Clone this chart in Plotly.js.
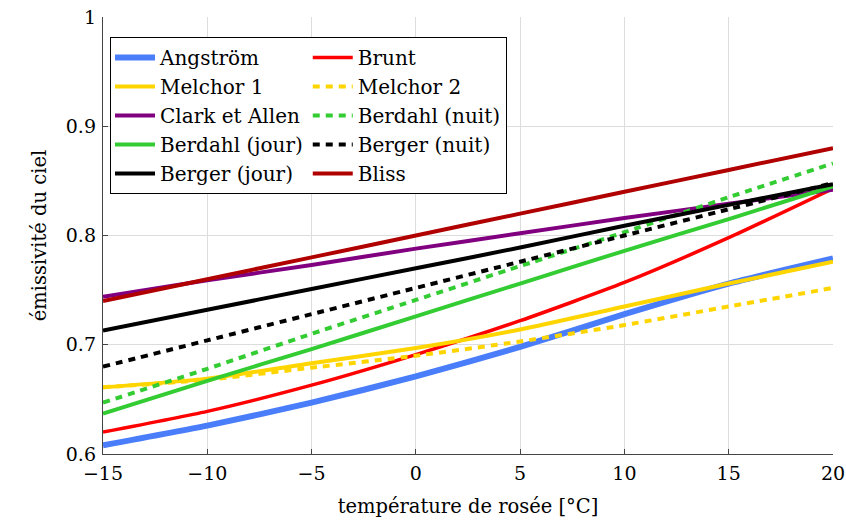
<!DOCTYPE html>
<html>
<head>
<meta charset="utf-8">
<script src="https://cdn.plot.ly/plotly-3.0.1.min.js"></script>
<style>html,body{margin:0;padding:0;background:#fff;}#chart{width:846px;height:520px;}</style>
</head>
<body>
<div id="chart"></div>
<script>
// Dew point temperature [°C]
const dewPoint = [-15, -10, -5, 0, 5, 10, 15, 20];

// Sky emissivity per model
const angstrom     = [0.608, 0.626, 0.647, 0.671, 0.698, 0.728, 0.756, 0.779];
const brunt        = [0.620, 0.639, 0.663, 0.691, 0.722, 0.757, 0.798, 0.843];
const melchor1     = [0.661, 0.669, 0.683, 0.697, 0.714, 0.735, 0.756, 0.776];
const melchor2     = [0.661, 0.668, 0.679, 0.690, 0.703, 0.718, 0.735, 0.752];
const clarkAllen   = [0.744, 0.759, 0.773, 0.788, 0.802, 0.816, 0.829, 0.842];
const berdahlNuit  = [0.647, 0.678, 0.710, 0.741, 0.772, 0.803, 0.835, 0.866];
const berdahlJour  = [0.637, 0.667, 0.696, 0.726, 0.756, 0.786, 0.815, 0.845];
const bergerNuit   = [0.680, 0.704, 0.728, 0.752, 0.776, 0.800, 0.824, 0.848];
const bergerJour   = [0.713, 0.732, 0.751, 0.770, 0.789, 0.809, 0.828, 0.847];
const bliss        = [0.740, 0.760, 0.780, 0.800, 0.820, 0.840, 0.860, 0.880];

const xTickVals = [-15, -10, -5, 0, 5, 10, 15, 20];
const yTickVals = [0.6, 0.7, 0.8, 0.9, 1];
const yTickText = ["0.6", "0.7", "0.8", "0.9", "1"];

const DOT = "7px,6px";
function tr(name, y, color, width, dash, group) {
  return {
    x: dewPoint, y: y, name: name, type: "scatter", mode: "lines",
    legendgroup: group,
    line: {color: color, width: width, dash: dash || "solid", shape: "spline", smoothing: 0.6}
  };
}

const data = [
  tr("Angström", angstrom, "#4a7dfa", 6, null, "a"),
  tr("Brunt", brunt, "#ff0000", 3.5, null, "b"),
  tr("Melchor 1", melchor1, "#ffd500", 4, null, "a"),
  tr("Melchor 2", melchor2, "#ffd500", 4, DOT, "b"),
  tr("Clark et Allen", clarkAllen, "#800080", 4, null, "a"),
  tr("Berdahl (nuit)", berdahlNuit, "#33cc33", 4, DOT, "b"),
  tr("Berdahl (jour)", berdahlJour, "#33cc33", 4, null, "a"),
  tr("Berger (nuit)", bergerNuit, "#000000", 4, DOT, "b"),
  tr("Berger (jour)", bergerJour, "#000000", 4, null, "a"),
  tr("Bliss", bliss, "#b00000", 4, null, "b")
];

const FONT = "DejaVu Serif";

const layout = {
  width: 846, height: 520,
  margin: {l: 103, r: 13, t: 17, b: 66},
  paper_bgcolor: "#ffffff", plot_bgcolor: "#ffffff",
  font: {family: FONT, size: 19, color: "#000"},
  showlegend: true,
  legend: {
    orientation: "h", traceorder: "grouped",
    x: 0.0096, y: 0.954, xanchor: "left", yanchor: "top",
    bgcolor: "#ffffff", bordercolor: "#000000", borderwidth: 1,
    font: {family: FONT, size: 20, color: "#000"},
    itemwidth: 40,
    tracegroupgap: 15
  },
  xaxis: {
    range: [-15, 20], tickvals: xTickVals,
    showgrid: true, gridcolor: "#dcdcdc", gridwidth: 1,
    zeroline: false, showline: true, linecolor: "#444", linewidth: 1.2,
    ticks: "inside", ticklen: 5, tickcolor: "#444",
    ticklabelstandoff: 2,
    tickfont: {family: FONT, size: 19},
    title: {text: "température de rosée [°C]", font: {family: FONT, size: 19.5}, standoff: 16}
  },
  yaxis: {
    range: [0.6, 1], tickvals: yTickVals, ticktext: yTickText,
    showgrid: true, gridcolor: "#dcdcdc", gridwidth: 1,
    zeroline: false, showline: true, linecolor: "#444", linewidth: 1.2,
    ticks: "inside", ticklen: 5, tickcolor: "#444",
    ticklabelstandoff: 2,
    tickfont: {family: FONT, size: 19},
    title: {text: "émissivité du ciel", font: {family: FONT, size: 19.5}, standoff: 14}
  }
};

Plotly.newPlot("chart", data, layout, {displayModeBar: false, staticPlot: true});
</script>
</body>
</html>
